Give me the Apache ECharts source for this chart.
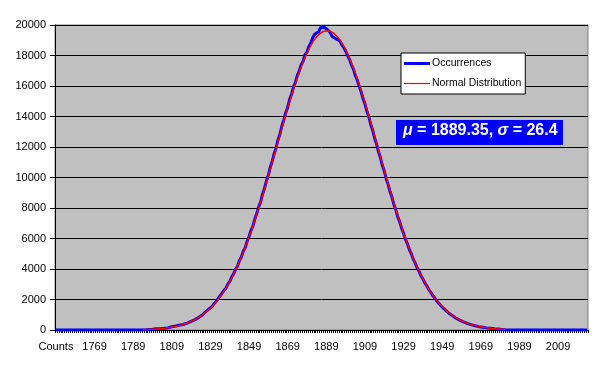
<!DOCTYPE html>
<html>
<head>
<meta charset="utf-8">
<script src="https://cdn.jsdelivr.net/npm/echarts@6/dist/echarts.min.js"></script>
<style>
html,body{margin:0;padding:0;background:#fff;}
#c{width:609px;height:373px;}
</style>
</head>
<body>
<div id="c"></div>
<script>
// Category axis: first label is the column header, then years
const firstLabel = "Counts";
const firstYear = 1750;
const lastYear = 2024;
const yTicks = [0, 2000, 4000, 6000, 8000, 10000, 12000, 14000, 16000, 18000, 20000];

// Occurrences: one value per category ("Counts", 1750 ... 2024)
const occurrences = [
  0,
  0,0,0,0,0,0,0,0,0,0, 0,0,0,0,0,0,0,0,0,0, 0,0,0,0,0,0,0,0,0,0, 0,0,0,0,0,0,0,0,0,0, 0,0,0,0,0,0,0,
  40,60,50,70,80,110,90,120,110,150,140,180,210,200,260,250,320,350,360,430,
  450,530,560,650,680,790,830,950,1000,1140,1200,1350,1470,1560,1740,1890,2000,2230,2350,2600,
  2740,3010,3180,3470,3690,3960,4180,4560,4790,5160,5400,5810,6130,6530,6820,7290,7640,8080,8400,8920,
  9300,9790,10150,10680,11070,11560,11950,12480,12860,13380,13780,14250,14600,15130,15460,15930,16250,16700,16990,17400,
  17620,18050,18230,18600,18830,19180,19400,19450,19560,19820,19780,19850,19720,19650,19500,19250,19120,19100,19080,18950,
  18700,18530,18300,18000,17750,17380,17120,16700,16400,15980,15640,15180,14830,14350,13990,13480,13100,12590,12210,11700,
  11310,10800,10420,9920,9550,9060,8700,8220,7880,7420,7090,6660,6350,5940,5650,5270,5000,4650,4400,4080,
  3850,3560,3350,3090,2900,2660,2490,2280,2130,1940,1810,1640,1530,1380,1290,1150,1080,960,900,790,
  740,650,610,530,500,430,410,350,330,280,270,220,210,180,170,140,130,110,100,80,
  80,60,60,40,
  0,0,0,0,0,0,0,0,0,0, 0,0,0,0,0,0,0,0,0,0, 0,0,0,0,0,0,0,0,0,0, 0,0,0,0,0,0,0,0,0,0, 0,0,0,0
];

// Normal distribution fit, drawn from 1794 to 1982
const normalStartYear = 1794;
const normalValues = [
  29,33,38,43,49,56,64,72,82,93,
  105,119,134,151,170,191,215,240,269,300,
  335,373,414,460,510,564,624,689,759,835,
  918,1007,1104,1208,1320,1440,1569,1708,1855,2013,
  2181,2359,2548,2749,2962,3186,3422,3670,3931,4204,
  4490,4789,5100,5423,5758,6106,6465,6835,7216,7608,
  8009,8419,8838,9265,9698,10137,10581,11028,11477,11928,
  12379,12828,13275,13717,14154,14584,15006,15417,15817,16204,
  16577,16934,17274,17595,17897,18178,18437,18672,18884,19070,
  19231,19365,19473,19552,19604,19628,
  19624,19592,19531,19443,19328,19186,19017,18823,18604,18361,
  18096,17809,17501,17174,16829,16467,16090,15698,15294,14880,
  14456,14024,13586,13142,12694,12244,11793,11342,10893,10447,
  10004,9567,9136,8711,8296,7888,7490,7101,6723,6356,
  6000,5656,5324,5005,4698,4403,4121,3851,3594,3349,
  3121,2897,2688,2490,2305,2129,1963,1809,1663,1528,
  1402,1284,1175,1073,979,892,811,736,668,605,
  547,494,445,401,360,323,290,260,232,207,
  185,164,146,130,115,102,90,79,70,61,
  54,47,42
];

const seriesNames = ["Occurrences", "Normal Distribution"];
const statsLabel = "{i|\u03bc} = 1889.35, {i|\u03c3} = 26.4";

// Build category list and data for the library
const categories = [firstLabel];
for (let y = firstYear; y <= lastYear; y++) categories.push(String(y));
const normalData = normalValues.map((v, i) => [String(normalStartYear + i), v]);

const FONT = 'Arial, "Liberation Sans", sans-serif';
const chart = echarts.init(document.getElementById('c'), null, {renderer: 'canvas'});
chart.setOption({
  animation: false,
  backgroundColor: '#ffffff',
  textStyle: {fontFamily: FONT},
  grid: {
    left: 55, right: 21, top: 25, bottom: 43,
    show: true, backgroundColor: '#c0c0c0', borderColor: '#808080', borderWidth: 1
  },
  xAxis: {
    type: 'category',
    data: categories,
    boundaryGap: true,
    axisLine: {show: true, lineStyle: {color: '#000', width: 1}},
    axisTick: {show: true, interval: 0, length: 3, lineStyle: {color: '#000', width: 1}},
    axisLabel: {interval: 19, color: '#000', fontSize: 11, fontFamily: FONT, margin: 11},
    splitLine: {show: false}
  },
  yAxis: {
    type: 'value',
    min: yTicks[0], max: yTicks[yTicks.length - 1], interval: yTicks[1] - yTicks[0],
    axisLine: {show: true, lineStyle: {color: '#000', width: 1}},
    axisTick: {show: true, length: 5, lineStyle: {color: '#000'}},
    axisLabel: {color: '#000', fontSize: 11, fontFamily: FONT, margin: 9, formatter: (v) => String(v)},
    splitLine: {show: true, lineStyle: {color: '#000', width: 1}}
  },
  legend: {
    left: 401, top: 53,
    orient: 'vertical',
    backgroundColor: '#ffffff', borderColor: '#000', borderWidth: 1, borderRadius: 0,
    padding: [5, 4, 5, 3],
    itemWidth: 26, itemHeight: 10, itemGap: 9,
    textStyle: {color: '#000', fontSize: 10.5, fontFamily: FONT, padding: [0, 0, 0, -3]},
    data: [
      {name: seriesNames[0], icon: 'path://M0,0L26,0L26,3L0,3Z'},
      {name: seriesNames[1], icon: 'path://M0,0L26,0L26,1.2L0,1.2Z'}
    ]
  },
  series: [
    {
      name: seriesNames[0], type: 'line', data: occurrences,
      symbol: 'none', showSymbol: false,
      lineStyle: {color: '#0000ff', width: 3}, itemStyle: {color: '#0000ff'}, z: 2
    },
    {
      name: seriesNames[1], type: 'line', data: normalData,
      symbol: 'none', showSymbol: false,
      lineStyle: {color: '#ff0000', width: 1.5}, itemStyle: {color: '#ff0000'}, z: 3
    }
  ],
  graphic: [
    {type: 'rect', left: 396, top: 120, shape: {width: 167, height: 25}, style: {fill: '#0000ff'}, z: 10},
    {
      type: 'text', left: 403, top: 123, z: 11,
      style: {
        text: statsLabel, fill: '#ffffff', font: 'bold 16px ' + FONT,
        rich: {i: {fontStyle: 'italic', fontWeight: 'bold', fontSize: 16, fontFamily: FONT, fill: '#ffffff', color: '#ffffff'}}
      }
    }
  ]
});
</script>
</body>
</html>
